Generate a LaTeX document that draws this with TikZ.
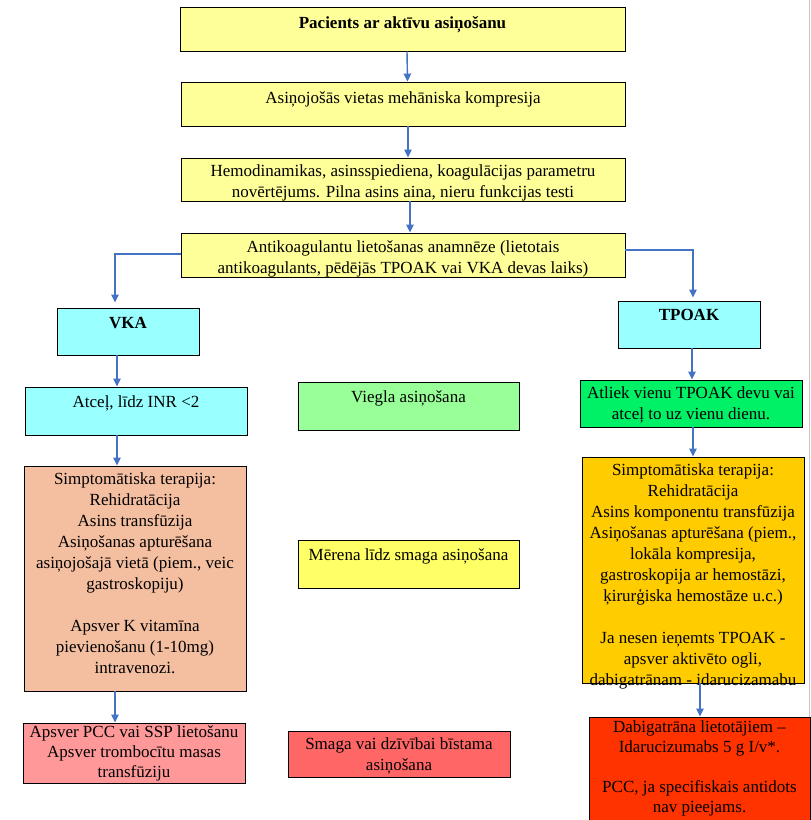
\documentclass[tikz,border=0pt]{standalone}
\usepackage{fontspec}
\setmainfont{Liberation Serif}
\usetikzlibrary{arrows.meta}

\definecolor{arrowblue}{RGB}{68,114,196}
\definecolor{lightyellow}{RGB}{255,255,153}
\definecolor{lightcyan}{RGB}{153,255,255}
\definecolor{lightgreen}{RGB}{153,255,153}
\definecolor{brightgreen}{RGB}{0,240,102}
\definecolor{salmon}{RGB}{244,190,160}
\definecolor{midyellow}{RGB}{255,255,102}
\definecolor{amber}{RGB}{255,204,0}
\definecolor{pink}{RGB}{255,153,153}
\definecolor{lightred}{RGB}{255,102,102}
\definecolor{orangered}{RGB}{255,51,0}

\tikzset{
    box/.style={draw, line width=0.9pt, inner sep=0pt},
    txt/.style={anchor=north, align=center, inner sep=0pt,
        font=\fontsize{17}{21}\selectfont, execute at begin node=\strut},
    arr/.style={draw=arrowblue, line width=1.4pt, -{Triangle[length=8pt,width=7.5pt]}}
}

\begin{document}
\begin{tikzpicture}[x=1pt,y=-1pt]
        \useasboundingbox (0,0) rectangle (811,820);
        \fill[white] (0,0) rectangle (811,820);
        \draw[black!22, line width=1pt] (809.5,0) -- (809.5,820);

        % central column
        \node[box, fill=lightyellow, minimum width=445, minimum height=44] (b1) at (402.5,29) {};
        \node[txt, font=\fontsize{17}{21}\selectfont\bfseries] (t1) at (402.5,14) {Pacients ar aktīvu asiņošanu};

        \node[box, fill=lightyellow, minimum width=444, minimum height=44] (b2) at (403,104) {};
        \node[txt] (t2) at (403,89) {Asiņojošās vietas mehāniska kompresija};

        \node[box, fill=lightyellow, minimum width=444, minimum height=43] (b3) at (403,179.5) {};
        \node[txt] (t3) at (403,164) {Hemodinamikas, asinsspiediena, koagulācijas parametru\\novērtējums. Pilna asins aina, nieru funkcijas testi};

        \node[box, fill=lightyellow, minimum width=444, minimum height=44] (b4) at (403,255) {};
        \node[txt] (t4) at (403,240) {Antikoagulantu lietošanas anamnēze (lietotais\\antikoagulants, pēdējās TPOAK vai VKA devas laiks)};

        % VKA branch
        \node[box, fill=lightcyan, minimum width=142, minimum height=47] (vka) at (128,331.5) {};
        \node[txt, font=\fontsize{17}{21}\selectfont\bfseries] (tvka) at (128,314) {VKA};

        \node[box, fill=lightcyan, minimum width=222, minimum height=48] (atcel) at (136,411) {};
        \node[txt] (tatcel) at (136,393) {Atceļ, līdz INR <2};

        \node[box, fill=salmon, minimum width=222, minimum height=225] (siml) at (135,578.5) {};
        \node[txt] (tsiml) at (135,472) {Simptomātiska terapija:\\Rehidratācija\\Asins transfūzija\\Asiņošanas apturēšana\\asiņojošajā vietā (piem., veic\\gastroskopiju)\\[21pt]Apsver K vitamīna\\pievienošanu (1-10mg)\\intravenozi.};

        \node[box, fill=pink, minimum width=222, minimum height=60] (pcc) at (134,753) {};
        \node[txt, font=\fontsize{17}{20}\selectfont] (tpcc) at (134,725) {Apsver PCC vai SSP lietošanu\\Apsver trombocītu masas\\transfūziju};

        % severity column
        \node[box, fill=lightgreen, minimum width=221, minimum height=48] (viegla) at (408.5,406) {};
        \node[txt] (tviegla) at (408.5,388) {Viegla asiņošana};

        \node[box, fill=midyellow, minimum width=221, minimum height=48] (merena) at (408.5,564) {};
        \node[txt] (tmerena) at (408.5,546) {Mērena līdz smaga asiņošana};

        \node[box, fill=lightred, minimum width=222, minimum height=46] (smaga) at (399,754) {};
        \node[txt] (tsmaga) at (399,737) {Smaga vai dzīvībai bīstama\\asiņošana};

        % TPOAK branch
        \node[box, fill=lightcyan, minimum width=142, minimum height=47] (tpoak) at (689,324.5) {};
        \node[txt, font=\fontsize{17}{21}\selectfont\bfseries] (ttpoak) at (689,306) {TPOAK};

        \node[box, fill=brightgreen, minimum width=222, minimum height=47] (atliek) at (691,403.5) {};
        \node[txt] (tatliek) at (691,386) {Atliek vienu TPOAK devu vai\\atceļ to uz vienu dienu.};

        \node[box, fill=amber, minimum width=222, minimum height=226] (simr) at (693,570) {};
        \node[txt] (tsimr) at (693,463) {Simptomātiska terapija:\\Rehidratācija\\Asins komponentu transfūzija\\Asiņošanas apturēšana (piem.,\\lokāla kompresija,\\gastroskopija ar hemostāzi,\\ķirurģiska hemostāze u.c.)\\[21pt]Ja nesen ieņemts TPOAK -\\apsver aktivēto ogli,\\dabigatrānam - idarucizamabu};

        \node[box, fill=orangered, minimum width=221, minimum height=113] (dabig) at (699.5,773.5) {};
        \node[txt, font=\fontsize{17}{20}\selectfont] (tdabig) at (699.5,720) {Dabigatrāna lietotājiem –\\Idarucizumabs 5 g I/v*.\\[20pt]PCC, ja specifiskais antidots\\nav pieejams.};

        % arrows
        \draw[arr] ([xshift=4.5pt]b1.south) -- ([xshift=4.5pt]b2.north);
        \draw[arr] ([xshift=5pt]b2.south) -- ([xshift=5pt]b3.north);
        \draw[arr] ([xshift=7pt]b3.south) -- ([xshift=7pt]b4.north);
        \draw[arr] ([yshift=1pt]b4.west) -| ([xshift=-13pt,yshift=5pt]vka.north);
        \draw[arr] ([yshift=5pt]b4.east) -| ([xshift=4pt,yshift=3pt]tpoak.north);
        \draw[arr] ([xshift=-11pt]vka.south) -- ([xshift=-19pt]atcel.north);
        \draw[arr] ([xshift=-19pt]atcel.south) -- ([xshift=-18pt]siml.north);
        \draw[arr] ([xshift=-20pt]siml.south) -- ([xshift=-19pt]pcc.north);
        \draw[arr] ([xshift=3pt]tpoak.south) -- ([xshift=1pt]atliek.north);
        \draw[arr] ([xshift=2pt]atliek.south) -- (simr.north);
        \draw[arr] ([xshift=7pt]simr.south) -- ([xshift=0.5pt]dabig.north);
    \end{tikzpicture}
\end{document}
